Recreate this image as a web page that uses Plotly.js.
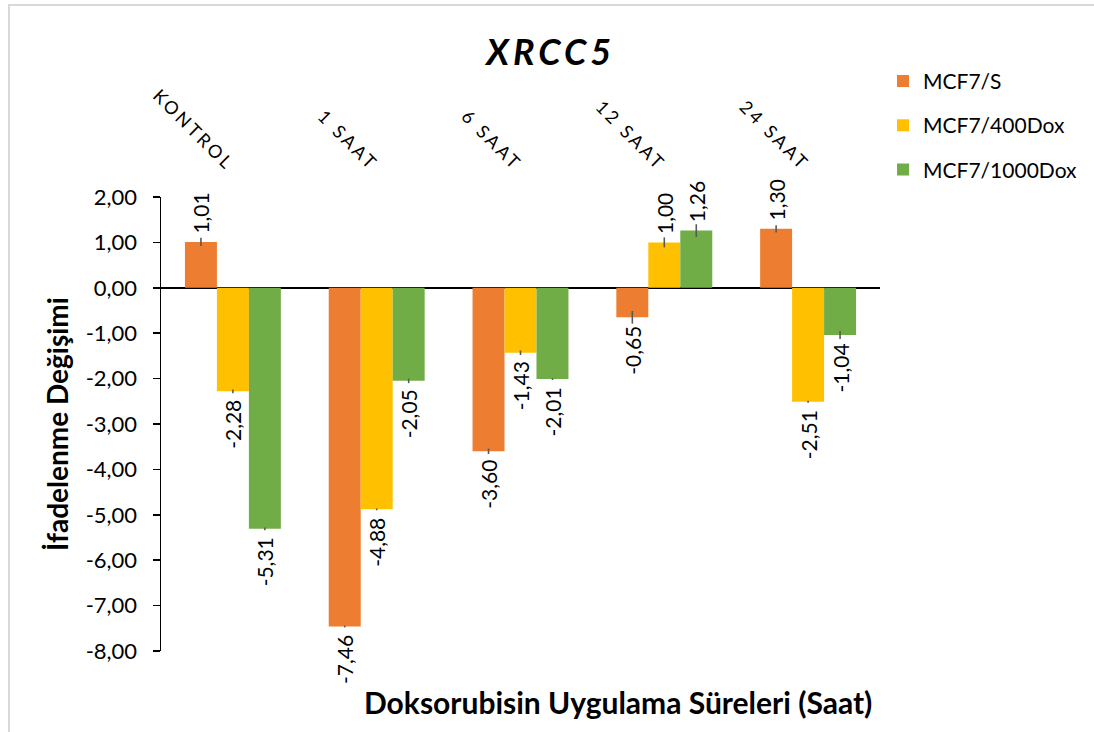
<!DOCTYPE html>
<html>
<head>
<meta charset="utf-8">
<script src="https://cdn.plot.ly/plotly-3.0.1.min.js"></script>
<style>
  html, body { margin: 0; padding: 0; background: #ffffff; }
  #wrap { position: relative; width: 1094px; height: 732px; }
  #chart { width: 1094px; height: 732px; }
  #frame { position: absolute; left: 8px; top: 4px; right: 0; bottom: 0;
           border-left: 2px solid #d9d9d9; border-top: 2px solid #d9d9d9; pointer-events: none; }
  #chart .gtitle { letter-spacing: 4px; }
  #chart .xtick text { letter-spacing: 3px; }
</style>
</head>
<body>
<div id="wrap">
  <div id="chart"></div>
  <div id="frame"></div>
</div>
<script>
const categories = ["KONTROL", "1 SAAT", "6 SAAT", "12 SAAT", "24 SAAT"];
const seriesNames = ["MCF7/S", "MCF7/400Dox", "MCF7/1000Dox"];
const valuesS      = [1.01, -7.46, -3.60, -0.65, 1.30];
const values400    = [-2.28, -4.88, -1.43, 1.00, -2.51];
const values1000   = [-5.31, -2.05, -2.01, 1.26, -1.04];
const errorsS      = [0.09, 0.02, 0.06, 0.14, 0.08];
const errors400    = [0.04, 0.02, 0.05, 0.11, 0.02];
const errors1000   = [0.03, 0.05, 0.02, 0.14, 0.09];
const colors = ["#ED7D31", "#FFC000", "#70AD47"];
const yTicks = [2, 1, 0, -1, -2, -3, -4, -5, -6, -7, -8];
const yTickText = yTicks.map(v => v.toFixed(2).replace(".", ","));

const FONT = "Lato, 'Open Sans', sans-serif";
const allValues = [valuesS, values400, values1000];
const allErrors = [errorsS, errors400, errors1000];

const traces = seriesNames.map((name, i) => ({
  type: "bar",
  name: name,
  legendgroup: "g" + i,
  x: categories,
  y: allValues[i],
  marker: { color: colors[i], line: { width: 0 } },
  error_y: { type: "data", array: allErrors[i], visible: true, color: "#595959", thickness: 1.6, width: 0 },
  texttemplate: "\u00A0%{y:.2f}\u00A0",
  textposition: "outside",
  textangle: -90,
  constraintext: "none",
  cliponaxis: false,
  textfont: { family: FONT, size: 21, color: "#000000" },
  hoverinfo: "x+y+name"
}));

const layout = {
  width: 1094,
  height: 732,
  margin: { l: 161, r: 213, t: 197, b: 81 },
  paper_bgcolor: "#ffffff",
  plot_bgcolor: "#ffffff",
  separators: ",.",
  font: { family: FONT, color: "#000000" },
  barmode: "group",
  bargap: 0.333,
  bargroupgap: 0,
  showlegend: true,
  title: {
    text: "<b><i>XRCC5</i></b>",
    x: 0.542, xref: "paper", xanchor: "center",
    y: 0.929, yref: "container", yanchor: "middle",
    font: { family: FONT, size: 36, color: "#000000" }
  },
  legend: {
    x: 1.0028, xanchor: "left",
    y: 1.30, yanchor: "top",
    traceorder: "grouped",
    tracegroupgap: 14,
    font: { family: FONT, size: 21, color: "#000000" },
    bgcolor: "rgba(0,0,0,0)"
  },
  xaxis: {
    side: "top",
    type: "category",
    tickangle: 45,
    ticks: "",
    showline: false,
    showgrid: false,
    zeroline: false,
    ticklabelstandoff: 18,
    tickfont: { family: FONT, size: 18, color: "#000000" }
  },
  yaxis: {
    range: [-8, 2],
    tickvals: yTicks,
    ticktext: yTickText,
    ticks: "outside",
    ticklen: 7,
    tickwidth: 1.5,
    tickcolor: "#000000",
    showline: true,
    linecolor: "#000000",
    linewidth: 1.5,
    showgrid: false,
    zeroline: true,
    zerolinecolor: "#000000",
    zerolinewidth: 2,
    ticklabelstandoff: 11,
    tickfont: { family: FONT, size: 22, color: "#000000" },
    title: {
      text: "<b>İfadelenme Değişimi</b>",
      standoff: 9,
      font: { family: FONT, size: 28, color: "#000000" }
    }
  },
  annotations: [{
    text: "<b>Doksorubisin Uygulama Süreleri (Saat)</b>",
    xref: "paper", yref: "paper",
    x: 0.635, y: -0.112,
    xanchor: "center", yanchor: "middle",
    showarrow: false,
    font: { family: FONT, size: 30, color: "#000000" }
  }]
};

Plotly.newPlot("chart", traces, layout, { displayModeBar: false, staticPlot: true });
</script>
</body>
</html>
